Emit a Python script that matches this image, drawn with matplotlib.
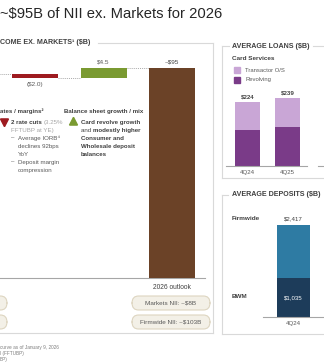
import matplotlib
matplotlib.use("Agg")
import matplotlib.pyplot as plt
from matplotlib.patches import Rectangle, FancyBboxPatch, RegularPolygon
from matplotlib.lines import Line2D

plt.rcParams['font.family'] = ['Liberation Sans', 'DejaVu Sans']

# NII ex. Markets walk ($B)
nii_start = 92.5
nii_deltas = [-2.0, 4.5]
nii_delta_labels = ["($2.0)", "$4.5"]
nii_total = 95
nii_total_label = "~$95"
nii_tick = "2026 outlook"

# Average loans, Card Services ($B)
loan_quarters = ["4Q24", "4Q25"]
loan_revolving = [127, 139]
loan_transactor = [97, 100]

# Average deposits ($B)
dep_quarters = ["4Q24"]
dep_bwm = [1035]
dep_firmwide = [2417]

W, H = 324, 363
BROWN = '#6B4227'
RED = '#9E1B20'
GREEN = '#7A9A31'
PURPLE_L = '#C9A6D6'
PURPLE_D = '#7A3B88'
BLUE_L = '#2E7BA3'
BLUE_D = '#1D3C5A'
BORDER = '#D9D9D9'
TXT = '#404040'
GRAY = '#A6A6A6'

fig = plt.figure(figsize=(W / 100, H / 100), dpi=100)
fig.patch.set_facecolor('white')


def fx(x):
    return x / W


def fy(y):
    return 1 - y / H


def ax_px(x0, y0, x1, y1):
    """Axes from pixel box (top-left origin)."""
    return fig.add_axes([fx(x0), fy(y1), (x1 - x0) / W, (y1 - y0) / H])


def txt(x, y, s, **kw):
    kw.setdefault('va', 'center')
    kw.setdefault('color', TXT)
    return fig.text(fx(x), fy(y), s, **kw)


def hline(x0, x1, y, **kw):
    fig.add_artist(Line2D([fx(x0), fx(x1)], [fy(y), fy(y)], **kw))


def vline(x, y0, y1, **kw):
    fig.add_artist(Line2D([fx(x), fx(x)], [fy(y0), fy(y1)], **kw))


renderer = fig.canvas.get_renderer()


def runs(x, y, parts, size=4.4):
    for s, weight, color in parts:
        t = txt(x, y, s, fontsize=size, fontweight=weight, color=color)
        x += t.get_window_extent(renderer).width


def pill(xc, y, w, label):
    box = FancyBboxPatch((fx(xc - w / 2), fy(y + 7)), w / W, 14 / H,
                         boxstyle="round,pad=0,rounding_size=0.02",
                         transform=fig.transFigure, facecolor='#F3F0E7',
                         edgecolor='#DDD5C0', linewidth=0.8)
    fig.add_artist(box)
    if label:
        txt(xc, y, label, fontsize=4.6, ha='center', color='#595959')


# title
txt(0, 14, "~$95B of NII ex. Markets for 2026", fontsize=10.6, color='#262626')

# ---- left panel: NII walk ----
hline(-5, 213, 333, color=BORDER, lw=0.8)
vline(213, 43, 333, color=BORDER, lw=0.8)
hline(98, 213, 43, color=BORDER, lw=0.8)
txt(0, 43, "COME EX. MARKETS\u00b9 ($B)", fontsize=5.1, fontweight='bold')

ax = ax_px(0, 50, 205, 278)
lvl = nii_start
bw = 0.67
for i, d in enumerate(nii_deltas):
    color = RED if d < 0 else GREEN
    ax.bar(i, d, bottom=lvl, width=bw, color=color, zorder=3)
    left = -0.6 if i == 0 else i - 1 + bw / 2
    ax.plot([left, i - bw / 2], [lvl, lvl], ls=(0, (1.5, 1.5)), color='#8C8C8C', lw=0.5)
    top = max(lvl, lvl + d)
    bot = min(lvl, lvl + d)
    if d < 0:
        ax.text(i, bot - 2.8, nii_delta_labels[i], ha='center', va='center', fontsize=4.6, color='#595959')
    else:
        ax.text(i, top + 2.8, nii_delta_labels[i], ha='center', va='center', fontsize=4.6, color='#595959')
    lvl += d
n = len(nii_deltas)
ax.plot([n - 1 + bw / 2, n - bw / 2], [lvl, lvl], ls=(0, (1.5, 1.5)), color='#8C8C8C', lw=0.5)
ax.bar(n, nii_total, width=bw, color=BROWN, zorder=3)
ax.text(n, nii_total + 2.8, nii_total_label, ha='center', va='center', fontsize=4.6, color='#404040')
ax.set_xlim(-0.511, 2.48)
ax.set_ylim(0, 103.2)
ax.set_xticks([n])
ax.set_xticklabels([nii_tick], fontsize=4.8, color='#404040')
ax.tick_params(length=0, pad=4)
ax.set_yticks([])
for s in ['top', 'right', 'left']:
    ax.spines[s].set_visible(False)
ax.spines['bottom'].set_color('#A6A6A6')
ax.spines['bottom'].set_linewidth(0.8)
ax.patch.set_alpha(0)

pill(171, 303, 78, "Markets NII: ~$8B")
pill(171, 322, 78, "Firmwide NII: ~$103B")
pill(-32, 303, 78, "")
pill(-32, 322, 78, "")

# driver notes
txt(0, 111, "ates / margins\u00b2", fontsize=4.4, fontweight='bold')
fig.add_artist(RegularPolygon((fx(4.5), fy(121.5)), 3, radius=4.6 / W,
                              orientation=3.14159, transform=fig.transFigure,
                              color=RED))
runs(11, 122, [("2 rate cuts ", 'bold', TXT), ("(3.25%", 'normal', GRAY)])
txt(11, 130, "FFTUBP at YE)", fontsize=4.4, color=GRAY)
txt(11, 138, "\u2013", fontsize=4.4, color='#595959')
txt(18, 138, "Average IORB\u2074", fontsize=4.4, color='#595959')
txt(18, 146, "declines 92bps", fontsize=4.4, color='#595959')
txt(18, 154, "YoY", fontsize=4.4, color='#595959')
txt(11, 162, "\u2013", fontsize=4.4, color='#595959')
txt(18, 162, "Deposit margin", fontsize=4.4, color='#595959')
txt(18, 170, "compression", fontsize=4.4, color='#595959')

txt(64, 111, "Balance sheet growth / mix", fontsize=4.4, fontweight='bold')
fig.add_artist(RegularPolygon((fx(73.5), fy(122.5)), 3, radius=4.6 / W,
                              orientation=0, transform=fig.transFigure,
                              color=GREEN))
txt(81, 122, "Card revolve growth", fontsize=4.4, fontweight='bold')
runs(81, 130, [("and ", 'normal', TXT), ("modestly higher", 'bold', TXT)])
txt(81, 138, "Consumer and", fontsize=4.4, fontweight='bold')
txt(81, 146, "Wholesale deposit", fontsize=4.4, fontweight='bold')
txt(81, 154, "balances", fontsize=4.4, fontweight='bold')

# footnotes
txt(0, 347, "curve as of January 9, 2026", fontsize=3.4, color='#7F7F7F')
txt(0, 353, "l (FFTUBP)", fontsize=3.4, color='#7F7F7F')
txt(0, 359, "BP)", fontsize=3.4, color='#7F7F7F')

# ---- average loans panel ----
vline(222, 46, 178, color=BORDER, lw=0.8)
hline(222, 229, 46, color=BORDER, lw=0.8)
hline(313, 330, 46, color=BORDER, lw=0.8)
hline(222, 330, 178, color=BORDER, lw=0.8)
txt(232, 46, "AVERAGE LOANS ($B)", fontsize=5.1, fontweight='bold')
txt(232, 59, "Card Services", fontsize=4.6, fontweight='bold')
fig.add_artist(Rectangle((fx(234), fy(73)), 6 / W, 6 / H, transform=fig.transFigure, color=PURPLE_L))
fig.add_artist(Rectangle((fx(234), fy(83)), 6 / W, 6 / H, transform=fig.transFigure, color=PURPLE_D))
txt(245, 70, "Transactor O/S", fontsize=4.2, color='#595959')
txt(245, 80, "Revolving", fontsize=4.2, color='#595959')

axl = ax_px(226, 85, 307, 166)
xs = range(len(loan_quarters))
axl.bar(xs, loan_revolving, width=0.625, color=PURPLE_D)
axl.bar(xs, loan_transactor, bottom=loan_revolving, width=0.625, color=PURPLE_L)
for i in xs:
    tot = loan_revolving[i] + loan_transactor[i]
    axl.text(i, tot + 10, f"${tot:,}", ha='center', va='bottom', fontsize=4.4,
             fontweight='bold', color='#404040')
axl.set_xlim(-0.5375, 1.4875)
axl.set_ylim(0, 285.5)
axl.set_xticks(list(xs))
axl.set_xticklabels(loan_quarters, fontsize=4.4, color='#595959')
axl.tick_params(length=0, pad=3)
axl.set_yticks([])
for s in ['top', 'right', 'left']:
    axl.spines[s].set_visible(False)
axl.spines['bottom'].set_color('#A6A6A6')
axl.spines['bottom'].set_linewidth(0.8)
hline(318, 324, 166, color='#A6A6A6', lw=0.8)

# ---- average deposits panel ----
vline(222, 195, 334, color=BORDER, lw=0.8)
hline(222, 228, 195, color=BORDER, lw=0.8)
hline(222, 330, 334, color=BORDER, lw=0.8)
txt(232, 195, "AVERAGE DEPOSITS ($B)", fontsize=5.1, fontweight='bold')
txt(232, 218, "Firmwide", fontsize=4.6, fontweight='bold')
txt(232, 297, "BWM", fontsize=4.6, fontweight='bold')

axd = ax_px(263, 200, 330, 317)
xd = range(len(dep_quarters))
dep_rest = [t - b for t, b in zip(dep_firmwide, dep_bwm)]
axd.bar(xd, dep_bwm, width=0.733, color=BLUE_D)
axd.bar(xd, dep_rest, bottom=dep_bwm, width=0.733, color=BLUE_L)
for i in xd:
    axd.text(i, dep_firmwide[i] + 110, f"${dep_firmwide[i]:,}", ha='center', va='bottom',
             fontsize=4.4, color='#404040')
    axd.text(i, dep_bwm[i] / 2, f"${dep_bwm[i]:,}", ha='center', va='center',
             fontsize=4.4, color='white')
axd.set_xlim(-0.678, 0.811)
axd.set_ylim(0, 117 / 0.0379)
axd.set_xticks(list(xd))
axd.set_xticklabels(dep_quarters, fontsize=4.4, color='#595959')
axd.tick_params(length=0, pad=3)
axd.set_yticks([])
for s in ['top', 'right', 'left']:
    axd.spines[s].set_visible(False)
axd.spines['bottom'].set_color('#A6A6A6')
axd.spines['bottom'].set_linewidth(0.8)
axd.patch.set_alpha(0)

fig.savefig("out.png", dpi=100)
